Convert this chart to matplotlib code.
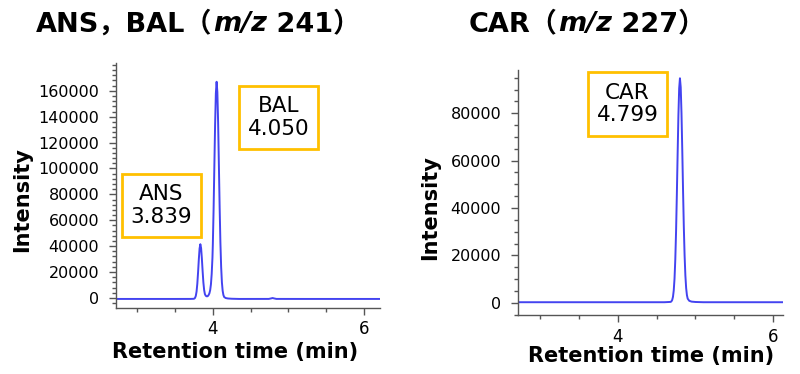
import numpy as np
import matplotlib
matplotlib.use("Agg")
import matplotlib.pyplot as plt
from matplotlib.patches import Rectangle
from matplotlib.ticker import MultipleLocator, FixedLocator

# left panel: m/z 241 trace (ANS + BAL)
t_241 = [2.72, 3.00, 3.50, 3.70, 3.745, 3.755, 3.765, 3.775, 3.785, 3.795, 3.805,
         3.815, 3.825, 3.835, 3.845, 3.855, 3.865, 3.875, 3.885, 3.895, 3.905,
         3.915, 3.925, 3.935, 3.945, 3.955, 3.965, 3.975, 3.985, 3.995,
         4.00, 4.01, 4.02, 4.03, 4.04, 4.05, 4.06, 4.07, 4.08, 4.09, 4.10, 4.11,
         4.12, 4.13, 4.14, 4.15, 4.17, 4.20, 4.25, 4.35, 4.74, 4.77, 4.79, 4.81,
         4.84, 5.20, 5.80, 6.21]
i_241 = [-800, -800, -800, -780, -700, -550, 40, 1570, 4900, 10960, 19800,
         29900, 38240, 41500, 38500, 30500, 20800, 12000, 6200, 3000, 1800,
         1300, 1200, 1500, 2300, 3600, 6000, 10500, 18500, 31000,
         41000, 68000, 101000, 133600, 158000, 167000, 159000, 135500, 103000, 70500, 43000, 24000,
         12000, 5500, 2200, 700, -100, -450, -650, -800, -780, -400, -100, -400,
         -780, -800, -800, -800]

# right panel: m/z 227 trace (CAR)
t_227 = [2.71, 3.50, 4.20, 4.60, 4.68, 4.69, 4.70, 4.71, 4.72, 4.73, 4.74, 4.75,
         4.76, 4.77, 4.78, 4.79, 4.80, 4.81, 4.82, 4.83, 4.84, 4.85, 4.86, 4.87,
         4.88, 4.89, 4.90, 4.92, 4.95, 5.00, 5.10, 5.60, 6.13]
i_227 = [200, 200, 200, 200, 330, 570, 1150, 2470, 5210, 10130, 18270, 30190,
         45610, 62730, 78900, 90540, 94800, 91000, 80000, 64500, 47500, 32000, 20000, 11500,
         6200, 3200, 1700, 800, 450, 300, 200, 200, 200]

peak_names_241 = ["ANS", "BAL"]
peak_rt_241 = ["3.839", "4.050"]
peak_names_227 = ["CAR"]
peak_rt_227 = ["4.799"]

yticks_241 = [0, 20000, 40000, 60000, 80000, 100000, 120000, 140000, 160000]
yticks_227 = [0, 20000, 40000, 60000, 80000]
xticks = [4, 6]

line_col = '#4343f0'
spine_col = '#555555'
box_col = '#ffc000'
fam = ['DejaVu Sans', 'Noto Sans CJK JP']
narrow = ['Liberation Sans Narrow', 'DejaVu Sans']

fig = plt.figure(figsize=(8, 3.74), dpi=100)
ax1 = fig.add_axes([116/800, 1-308/374, 264/800, 245/374])
ax2 = fig.add_axes([518/800, 1-315/374, 265/800, 245/374])


def style_axes(ax, xlim, ylim, yticks, ymin):
    ax.set_xlim(*xlim)
    ax.set_ylim(*ylim)
    for s in ['top', 'right']:
        ax.spines[s].set_visible(False)
    for s in ['left', 'bottom']:
        ax.spines[s].set_color(spine_col)
        ax.spines[s].set_linewidth(1.0)
    ax.xaxis.set_major_locator(FixedLocator(xticks))
    ax.xaxis.set_minor_locator(MultipleLocator(0.5))
    ax.yaxis.set_major_locator(FixedLocator(yticks))
    ax.yaxis.set_minor_locator(MultipleLocator(ymin))
    ax.tick_params(axis='both', which='major', color=spine_col, length=5, width=1)
    ax.tick_params(axis='both', which='minor', color=spine_col, length=3, width=1)
    ax.tick_params(axis='y', which='major', pad=7, labelsize=11.5)
    ax.tick_params(axis='x', which='major', pad=4, labelsize=12, labelfontfamily=narrow)


def label_box(ax, x0, y0, x1, y1, name, rt):
    ax.add_patch(Rectangle((x0, y0), x1 - x0, y1 - y0, transform=ax.transAxes,
                           fill=False, edgecolor=box_col, linewidth=2, clip_on=False))
    ax.text((x0 + x1) / 2, (y0 + y1) / 2, f"{name}\n{rt}", transform=ax.transAxes,
            ha='center', va='center', fontsize=15.5, linespacing=1.15)


def title_pieces(pieces, cx, cy, size):
    # lay out text pieces side by side, centred on cx (pixels)
    r = fig.canvas.get_renderer()
    objs = []
    for s, st in pieces:
        objs.append(fig.text(0, cy / 374, s, family=fam, weight='bold', style=st,
                             fontsize=size, ha='left', va='center'))
    widths = [o.get_window_extent(r).width for o in objs]
    x = cx - sum(widths) / 2
    for o, w in zip(objs, widths):
        o.set_x(x / 800)
        x += w


ax1.plot(t_241, i_241, color=line_col, linewidth=1.4)
style_axes(ax1, (2.72, 6.21), (-7800, 181500), yticks_241, 4000)
label_box(ax1, 0.023, 0.290, 0.322, 0.547, peak_names_241[0], peak_rt_241[0])
label_box(ax1, 0.466, 0.649, 0.765, 0.906, peak_names_241[1], peak_rt_241[1])

ax2.plot(t_227, i_227, color=line_col, linewidth=1.4)
style_axes(ax2, (2.71, 6.13), (-5200, 98300), yticks_227, 5000)
label_box(ax2, 0.264, 0.731, 0.562, 0.992, peak_names_227[0], peak_rt_227[0])

# titles, axis labels
title_pieces([('ANS，BAL（', 'normal'), ('m/z', 'italic'), (' 241）', 'normal')],
             198, 374 - 24, 19.5)
title_pieces([('CAR（', 'normal'), ('m/z', 'italic'), (' 227）', 'normal')],
             587, 374 - 24, 19.5)
fig.text(235/800, 1-352/374, 'Retention time (min)', weight='bold', fontsize=15,
         ha='center', va='center')
fig.text(651/800, 1-356/374, 'Retention time (min)', weight='bold', fontsize=15,
         ha='center', va='center')
fig.text(22/800, 1-200/374, 'Intensity', weight='bold', fontsize=15, rotation=90,
         ha='center', va='center')
fig.text(430/800, 1-208/374, 'Intensity', weight='bold', fontsize=15, rotation=90,
         ha='center', va='center')

fig.savefig('out.png', dpi=100)
